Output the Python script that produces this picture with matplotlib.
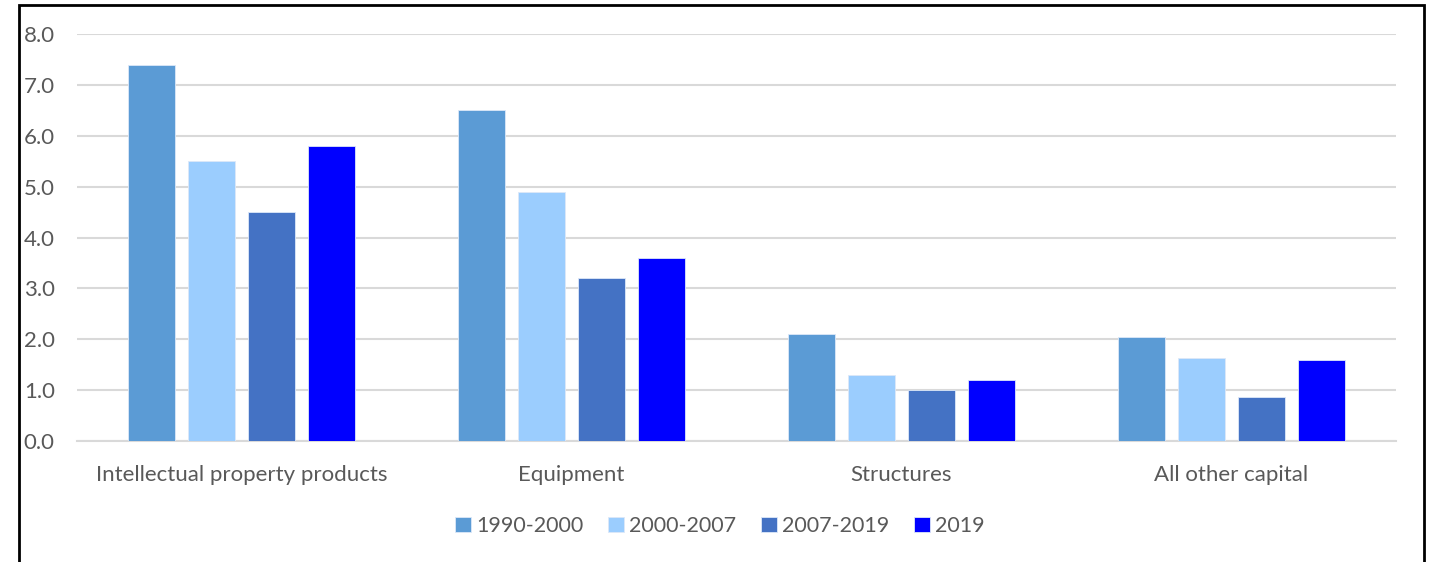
import numpy as np
import matplotlib.pyplot as plt
from matplotlib.patches import Rectangle

categories = ['Intellectual property products', 'Equipment', 'Structures', 'All other capital']
series_names = ['1990-2000', '2000-2007', '2007-2019', '2019']
v_1990_2000 = [7.4, 6.5, 2.1, 2.05]
v_2000_2007 = [5.5, 4.9, 1.3, 1.64]
v_2007_2019 = [4.5, 3.2, 1.0, 0.86]
v_2019 = [5.8, 3.6, 1.2, 1.6]
colors = ['#5B9BD5', '#9BCDFE', '#4472C4', '#0000FF']

plt.rcParams['font.family'] = ['Lato', 'DejaVu Sans']
text_color = '#595959'

fig = plt.figure(figsize=(14.32, 5.62), dpi=100)
ax = fig.add_axes([77 / 1432, 1 - 441 / 562, (1396 - 77) / 1432, (441 - 34) / 562])

x = np.arange(len(categories))
width = 0.1424
step = 0.1818
all_vals = [v_1990_2000, v_2000_2007, v_2007_2019, v_2019]
for i, (vals, name, c) in enumerate(zip(all_vals, series_names, colors)):
    ax.bar(x + (i - 1.5) * step, vals, width, color=c, label=name,
           edgecolor='#DDE8F8', linewidth=0.6, zorder=3)

ax.set_xlim(-0.5, 3.5)
ax.set_ylim(0, 8)
ax.set_yticks(np.arange(0, 8.1, 1))
ax.set_yticklabels([f'{v:.1f}' for v in np.arange(0, 8.1, 1)])
ax.yaxis.grid(True, color='#D9D9D9', linewidth=1.5, zorder=0)
ax.set_axisbelow(True)
for s in ['top', 'right', 'left']:
    ax.spines[s].set_visible(False)
ax.spines['bottom'].set_color('#D9D9D9')
ax.spines['bottom'].set_linewidth(1.5)
ax.set_xticks(x)
ax.set_xticklabels(categories)
ax.tick_params(axis='both', length=0, labelsize=16, colors=text_color)
ax.tick_params(axis='y', pad=16)
ax.tick_params(axis='x', pad=17)

fig.legend(loc='center', bbox_to_anchor=(720 / 1432, 1 - 526 / 562), ncol=4,
           frameon=False, fontsize=15.5, handlelength=0.72, handleheight=0.72,
           handletextpad=0.25, columnspacing=1.15, labelcolor=text_color)

fig.patches.append(Rectangle((19 / 1432, -0.1), (1424 - 19) / 1432, 1.1 - 5 / 562,
                             transform=fig.transFigure, fill=False,
                             edgecolor='black', linewidth=2))

fig.savefig('out.png', dpi=100)
